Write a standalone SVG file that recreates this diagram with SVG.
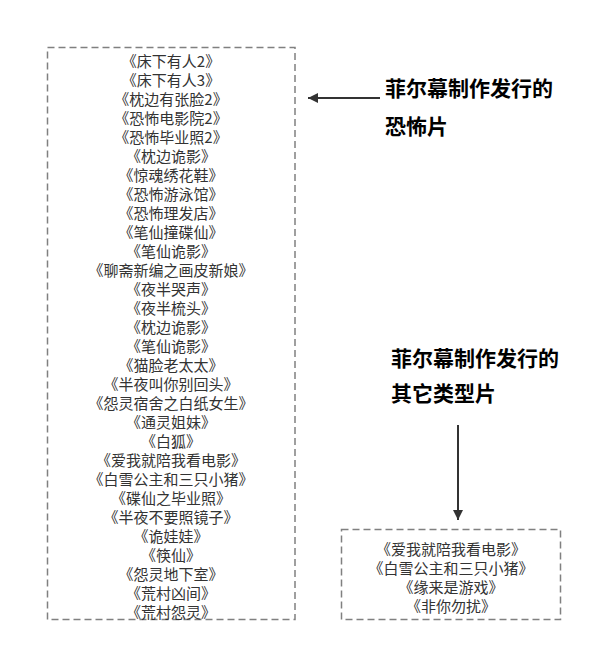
<svg xmlns="http://www.w3.org/2000/svg" width="592" height="652" viewBox="0 0 592 652">
<style>
.box{fill:#ffffff;stroke:#808080;stroke-width:1.5;stroke-dasharray:7 4}
.item{font-family:"Noto Sans CJK SC","Noto Sans",sans-serif;font-size:15px;fill:#333333;text-anchor:middle;dominant-baseline:central}
.label{font-family:"Noto Sans CJK SC","Noto Sans",sans-serif;font-size:21px;font-weight:bold;fill:#000000;dominant-baseline:central}
.conn{stroke:#333333;stroke-width:2;fill:none}
</style>
<defs>
<marker id="arrow" viewBox="0 0 10 10" refX="10" refY="5" markerWidth="16" markerHeight="10" markerUnits="userSpaceOnUse" orient="auto">
<path d="M0,0 L10,5 L0,10 z" fill="#333333"/>
</marker>
</defs>
<rect width="592" height="652" fill="#ffffff"/>
<g id="horror-list">
<rect class="box" x="47.5" y="47.5" width="247.5" height="572"/>
<text class="item" x="171" y="60">《床下有人2》</text>
<text class="item" x="171" y="79">《床下有人3》</text>
<text class="item" x="171" y="98">《枕边有张脸2》</text>
<text class="item" x="171" y="117">《恐怖电影院2》</text>
<text class="item" x="171" y="136">《恐怖毕业照2》</text>
<text class="item" x="171" y="155">《枕边诡影》</text>
<text class="item" x="171" y="174">《惊魂绣花鞋》</text>
<text class="item" x="171" y="193">《恐怖游泳馆》</text>
<text class="item" x="171" y="212">《恐怖理发店》</text>
<text class="item" x="171" y="231">《笔仙撞碟仙》</text>
<text class="item" x="171" y="250">《笔仙诡影》</text>
<text class="item" x="171" y="269">《聊斋新编之画皮新娘》</text>
<text class="item" x="171" y="288">《夜半哭声》</text>
<text class="item" x="171" y="307">《夜半梳头》</text>
<text class="item" x="171" y="326">《枕边诡影》</text>
<text class="item" x="171" y="345">《笔仙诡影》</text>
<text class="item" x="171" y="364">《猫脸老太太》</text>
<text class="item" x="171" y="383">《半夜叫你别回头》</text>
<text class="item" x="171" y="402">《怨灵宿舍之白纸女生》</text>
<text class="item" x="171" y="421">《通灵姐妹》</text>
<text class="item" x="171" y="440">《白狐》</text>
<text class="item" x="171" y="459">《爱我就陪我看电影》</text>
<text class="item" x="171" y="478">《白雪公主和三只小猪》</text>
<text class="item" x="171" y="497">《碟仙之毕业照》</text>
<text class="item" x="171" y="516">《半夜不要照镜子》</text>
<text class="item" x="171" y="535">《诡娃娃》</text>
<text class="item" x="171" y="554">《筷仙》</text>
<text class="item" x="171" y="573">《怨灵地下室》</text>
<text class="item" x="171" y="592">《荒村凶间》</text>
<text class="item" x="171" y="611">《荒村怨灵》</text>
</g>
<g id="horror-label">
<text class="label" x="385" y="87">菲尔幕制作发行的</text>
<text class="label" x="385" y="125">恐怖片</text>
</g>
<g id="other-label">
<text class="label" x="391" y="357">菲尔幕制作发行的</text>
<text class="label" x="391" y="392">其它类型片</text>
</g>
<g id="other-list">
<rect class="box" x="341.5" y="529.5" width="219" height="90"/>
<text class="item" x="451" y="548">《爱我就陪我看电影》</text>
<text class="item" x="451" y="567">《白雪公主和三只小猪》</text>
<text class="item" x="451" y="586">《缘来是游戏》</text>
<text class="item" x="451" y="605">《非你勿扰》</text>
</g>
<g id="connectors">
<line class="conn" x1="380" y1="98" x2="308" y2="98" marker-end="url(#arrow)"/>
<line class="conn" x1="458" y1="425" x2="458" y2="520" marker-end="url(#arrow)"/>
</g>
</svg>
